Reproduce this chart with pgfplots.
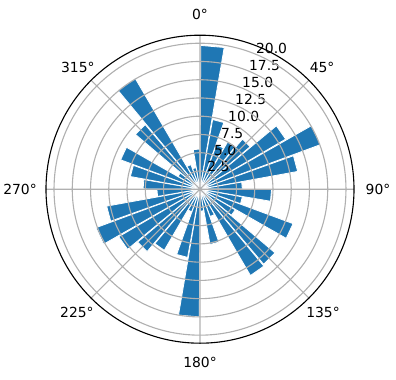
\documentclass[border=0pt]{standalone}
\usepackage{fontspec}
\setmainfont{DejaVu Sans}
\usepackage{pgfplots}
\pgfplotsset{compat=1.18}
\usepgfplotslibrary{polar}
\definecolor{mplblue}{HTML}{1F77B4}
\definecolor{mplgrid}{HTML}{B0B0B0}
\newcommand{\pbar}[3]{\addplot[fill=mplblue, draw=white, line width=0.6bp] coordinates {(0,0) (#1,#3) (#2,#3) (0,0)};}
\begin{document}
\fontsize{10bp}{12bp}\selectfont
\begin{tikzpicture}
\useasboundingbox (-144bp,-137.38bp) rectangle (141.12bp,136.22bp);
\begin{polaraxis}[
 at={(0,0)}, anchor=center,
 scale only axis, width=221.76bp, height=221.76bp,
 ymin=0, ymax=21.1,
 xtick={0,45,...,315},
 ytick={2.5,5,7.5,10,12.5,15,17.5,20},
 xmajorticks=false, ymajorticks=false,
 xmajorgrids=true, ymajorgrids=true,
 major grid style={mplgrid, line width=0.8bp},
 axis line style={black, line width=0.8bp},
 y axis line style={draw=none},
 axis on top, clip=false,
]
\pbar{80.3}{89.7}{19.7}
\pbar{70.3}{79.7}{9.7}
\pbar{60.3}{69.7}{6.5}
\pbar{50.3}{59.7}{7.5}
\pbar{40.3}{49.7}{9.0}
\pbar{30.3}{39.7}{13.6}
\pbar{20.3}{29.7}{17.6}
\pbar{10.3}{19.7}{13.6}
\pbar{0.3}{9.7}{5.8}
\pbar{350.3}{359.7}{9.8}
\pbar{340.3}{349.7}{5.9}
\pbar{330.3}{339.7}{13.6}
\pbar{320.3}{329.7}{5.6}
\pbar{310.3}{319.7}{13.5}
\pbar{300.3}{309.7}{13.7}
\pbar{290.3}{299.7}{4.0}
\pbar{280.3}{289.7}{7.7}
\pbar{270.3}{279.7}{3.0}
\pbar{260.3}{269.7}{17.5}
\pbar{250.3}{259.7}{9.5}
\pbar{240.3}{249.7}{3.3}
\pbar{230.3}{239.7}{9.7}
\pbar{220.3}{229.7}{11.2}
\pbar{210.3}{219.7}{12.9}
\pbar{200.3}{209.7}{15.2}
\pbar{190.3}{199.7}{13.0}
\pbar{180.3}{189.7}{5.9}
\pbar{170.3}{179.7}{7.8}
\pbar{160.3}{169.7}{9.7}
\pbar{150.3}{159.7}{11.6}
\pbar{140.3}{149.7}{3.5}
\pbar{130.3}{139.7}{11.6}
\pbar{120.3}{129.7}{17.6}
\pbar{110.3}{119.7}{3.6}
\pbar{100.3}{109.7}{3.0}
\pbar{90.3}{99.7}{5.5}
\node at (axis cs:90,23.94) {0°};
\node at (axis cs:45,23.66) {45°};
\node at (axis cs:0,24.39) {90°};
\node at (axis cs:315,23.84) {135°};
\node at (axis cs:270,23.74) {180°};
\node at (axis cs:225,23.84) {225°};
\node at (axis cs:180,24.66) {270°};
\node at (axis cs:135,23.66) {315°};
\node[anchor=south west, inner sep=0pt] at (axis cs:67.5,2.5) {2.5};
\node[anchor=south west, inner sep=0pt] at (axis cs:67.5,5) {5.0};
\node[anchor=south west, inner sep=0pt] at (axis cs:67.5,7.5) {7.5};
\node[anchor=south west, inner sep=0pt] at (axis cs:67.5,10) {10.0};
\node[anchor=south west, inner sep=0pt] at (axis cs:67.5,12.5) {12.5};
\node[anchor=south west, inner sep=0pt] at (axis cs:67.5,15) {15.0};
\node[anchor=south west, inner sep=0pt] at (axis cs:67.5,17.5) {17.5};
\node[anchor=south west, inner sep=0pt] at (axis cs:67.5,20) {20.0};
\end{polaraxis}
\end{tikzpicture}
\end{document}
